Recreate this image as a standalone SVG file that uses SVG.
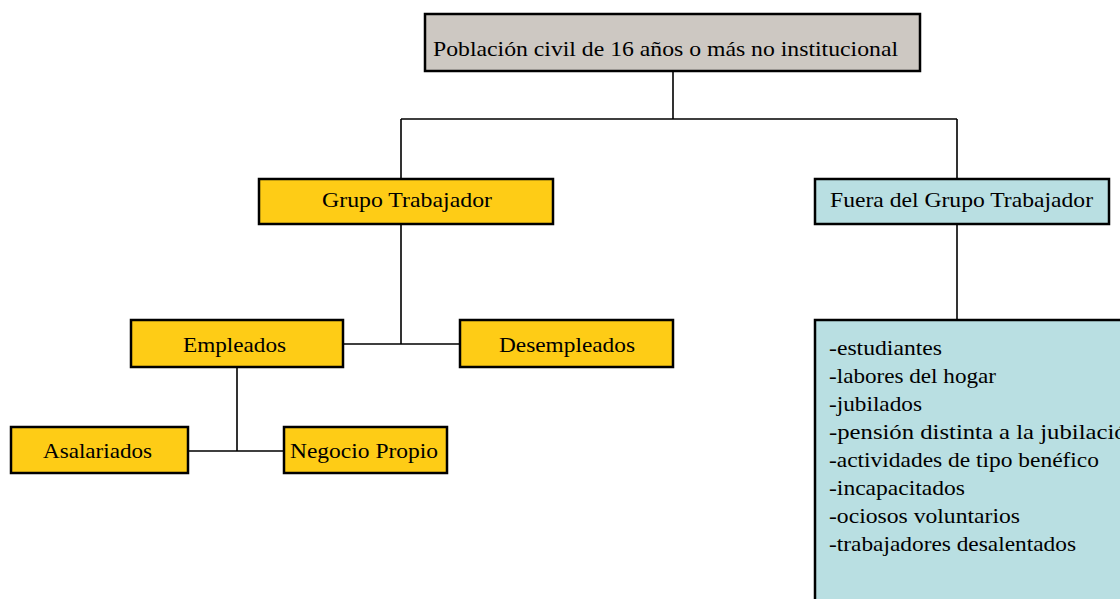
<svg xmlns="http://www.w3.org/2000/svg" width="1120" height="599" viewBox="0 0 1120 599">
<style>
.box{stroke:#000;stroke-width:2.5}
.grey{fill:#CDC8C2}
.yel{fill:#FECC16}
.blue{fill:#B9DFE2}
.conn{fill:none;stroke:#000;stroke-width:1.6}
text{font-family:"Liberation Serif","Times New Roman",serif;font-size:22px;fill:#000}
</style>
<rect width="1120" height="599" fill="#fff"/>
<g id="connectors">
<path class="conn" d="M673 71V119M401 119H957M401 119V179M957 119V179"/>
<path class="conn" d="M957 224V320"/>
<path class="conn" d="M401 224V344M343 344H460"/>
<path class="conn" d="M237 367V451M188 451H284"/>
</g>
<g id="poblacion">
<rect class="box grey" x="425" y="14" width="495" height="57"/>
<text x="433" y="56" textLength="465" lengthAdjust="spacingAndGlyphs">Población civil de 16 años o más no institucional</text>
</g>
<g id="grupo">
<rect class="box yel" x="259" y="179" width="294" height="45"/>
<text x="322" y="207" textLength="170" lengthAdjust="spacingAndGlyphs">Grupo Trabajador</text>
</g>
<g id="fuera">
<rect class="box blue" x="815" y="179" width="294" height="45"/>
<text x="830" y="207" textLength="263" lengthAdjust="spacingAndGlyphs">Fuera del Grupo Trabajador</text>
</g>
<g id="empleados">
<rect class="box yel" x="131" y="320" width="212" height="47"/>
<text x="183" y="352" textLength="103" lengthAdjust="spacingAndGlyphs">Empleados</text>
</g>
<g id="desempleados">
<rect class="box yel" x="460" y="320" width="213" height="47"/>
<text x="499" y="352" textLength="136" lengthAdjust="spacingAndGlyphs">Desempleados</text>
</g>
<g id="asalariados">
<rect class="box yel" x="11" y="427" width="177" height="46"/>
<text x="43" y="458" textLength="109" lengthAdjust="spacingAndGlyphs">Asalariados</text>
</g>
<g id="negocio">
<rect class="box yel" x="284" y="427" width="163" height="46"/>
<text x="290" y="458" textLength="148" lengthAdjust="spacingAndGlyphs">Negocio Propio</text>
</g>
<g id="lista">
<rect class="box blue" x="815" y="320" width="400" height="400"/>
<text x="829" y="355" textLength="113" lengthAdjust="spacingAndGlyphs">-estudiantes</text>
<text x="829" y="383" textLength="167" lengthAdjust="spacingAndGlyphs">-labores del hogar</text>
<text x="829" y="411" textLength="93" lengthAdjust="spacingAndGlyphs">-jubilados</text>
<text x="829" y="439" textLength="310" lengthAdjust="spacingAndGlyphs">-pensión distinta a la jubilación</text>
<text x="829" y="467" textLength="270" lengthAdjust="spacingAndGlyphs">-actividades de tipo benéfico</text>
<text x="829" y="495" textLength="136" lengthAdjust="spacingAndGlyphs">-incapacitados</text>
<text x="829" y="523" textLength="191" lengthAdjust="spacingAndGlyphs">-ociosos voluntarios</text>
<text x="829" y="551" textLength="247" lengthAdjust="spacingAndGlyphs">-trabajadores desalentados</text>
</g>
</svg>
